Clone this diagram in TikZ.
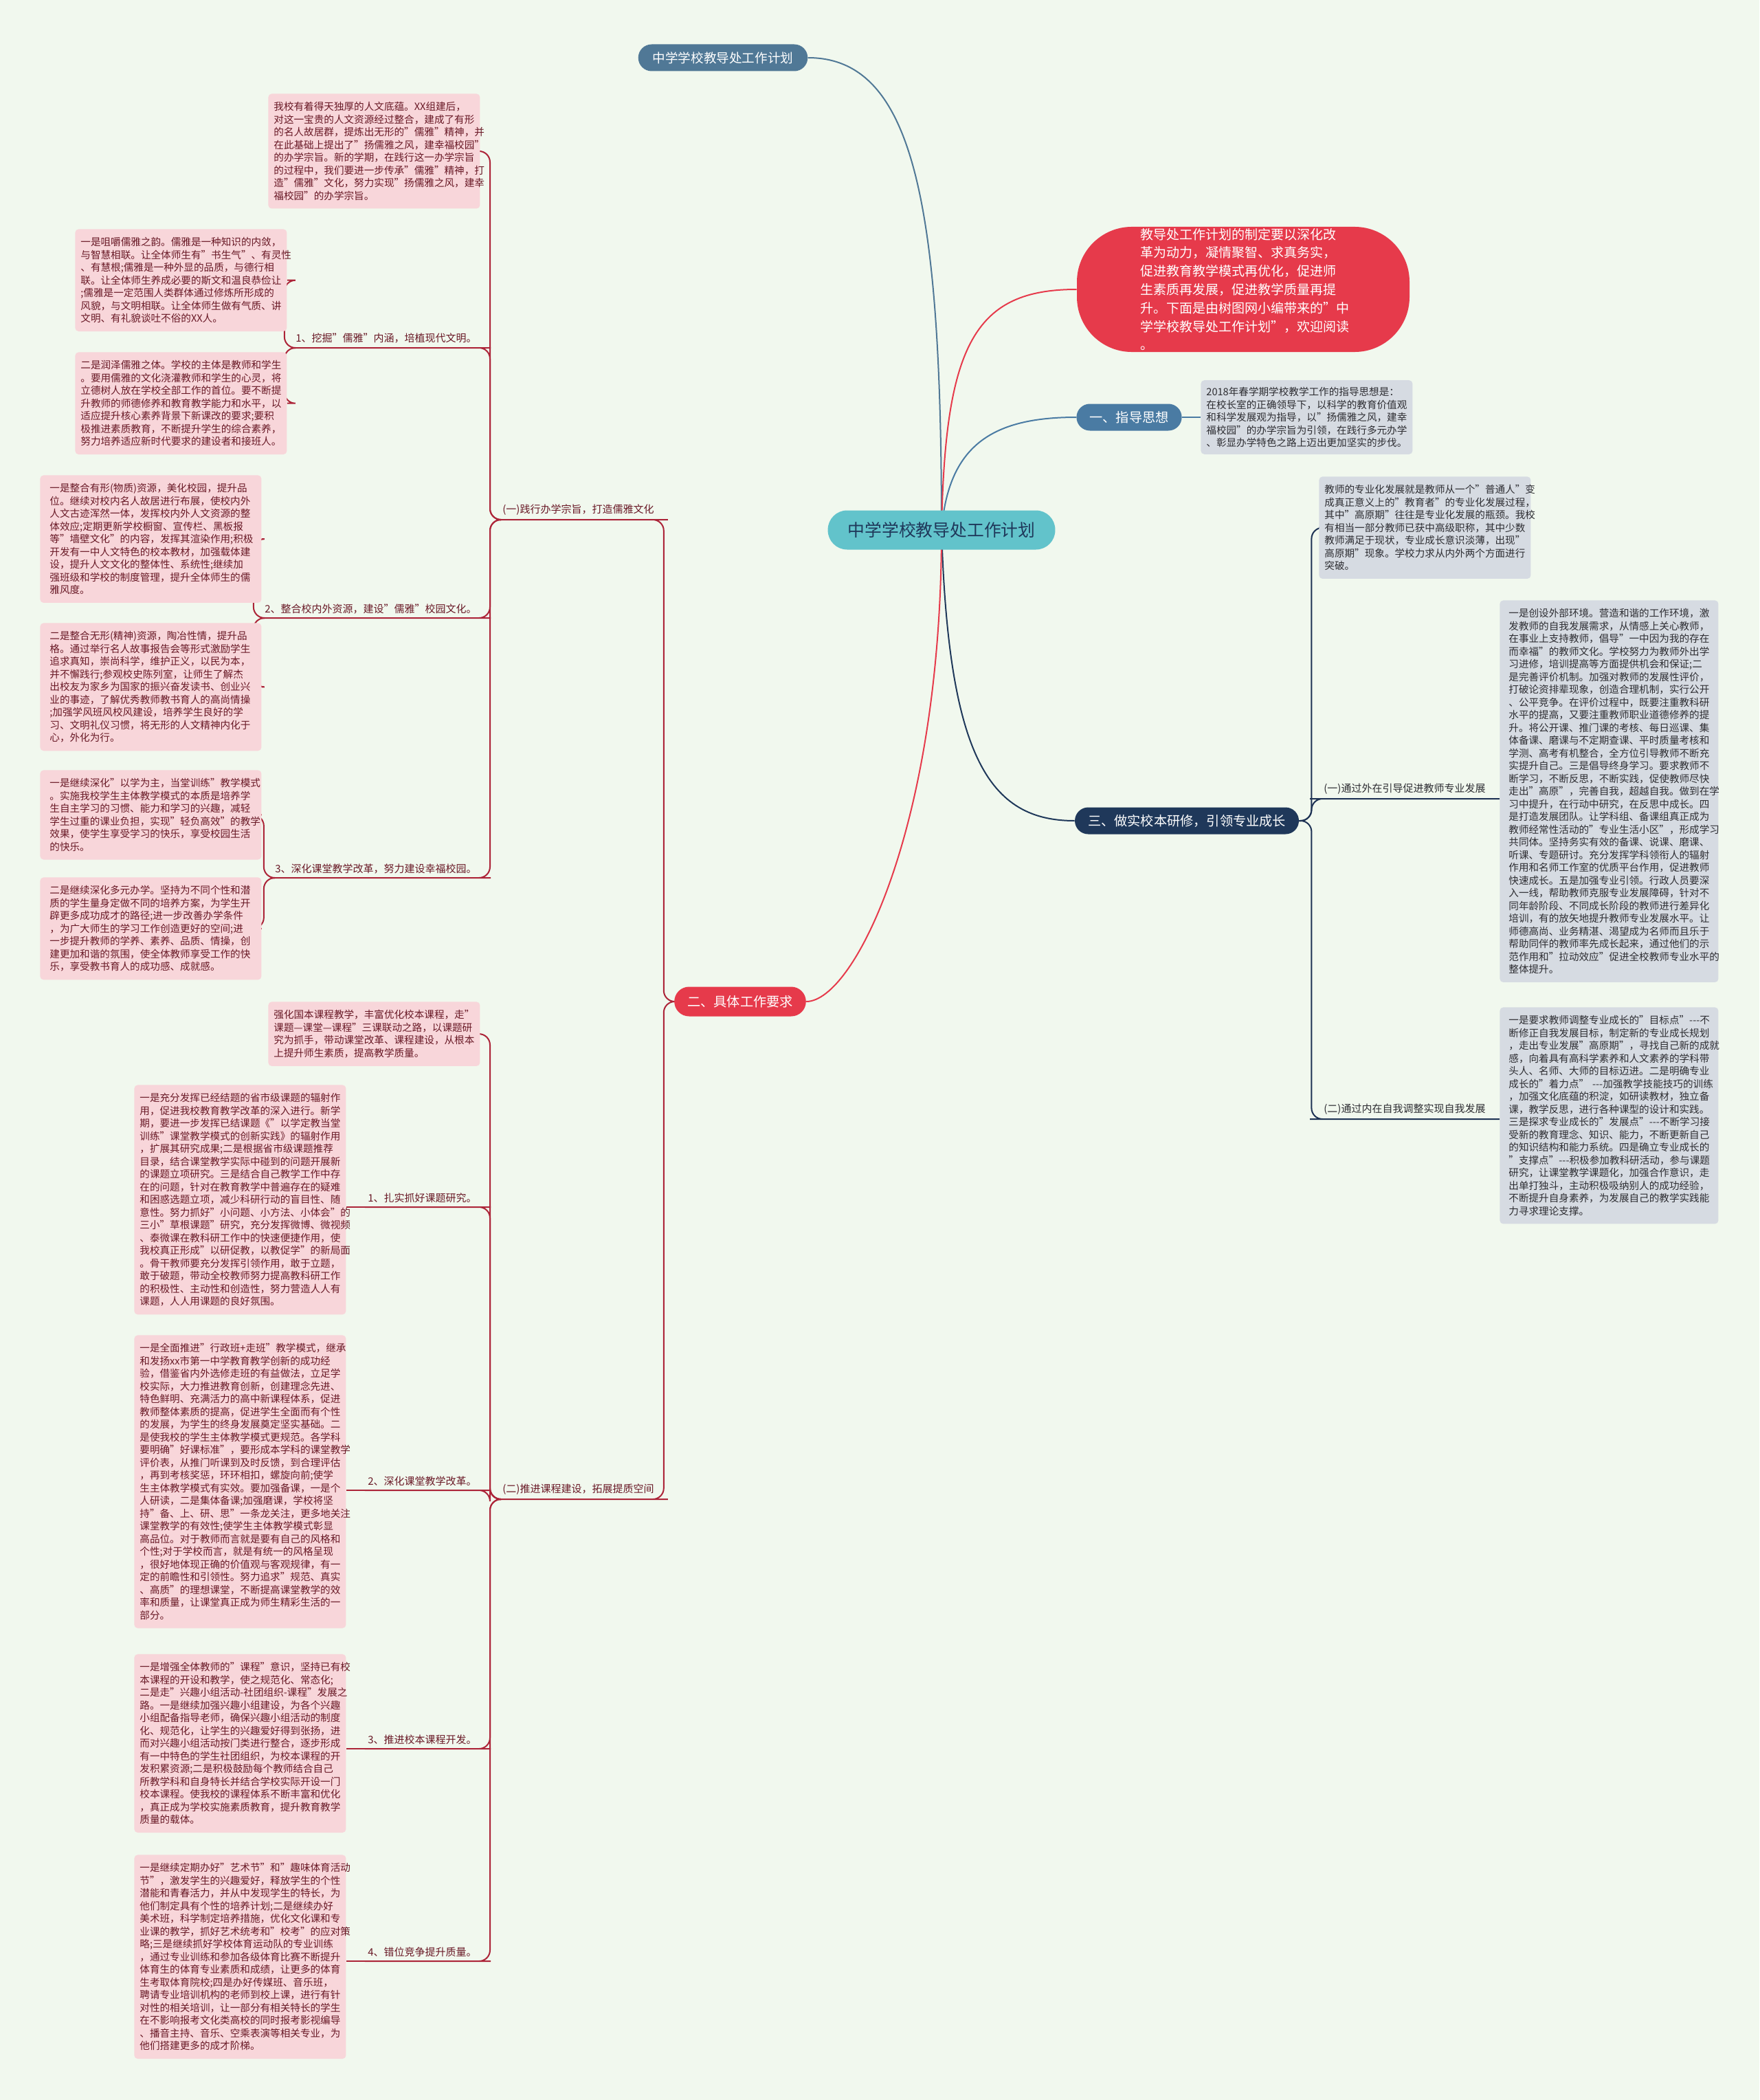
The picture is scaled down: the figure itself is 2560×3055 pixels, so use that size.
\documentclass[tikz,border=0pt]{standalone}
\usepackage{fontspec}
\setmainfont{Noto Sans CJK SC}
\usetikzlibrary{positioning,backgrounds}
\definecolor{bgc}{RGB}{241,248,238}
\definecolor{pkfill}{RGB}{248,214,218}
\definecolor{pktext}{RGB}{105,25,38}
\definecolor{pkline}{RGB}{172,36,56}
\definecolor{gyfill}{RGB}{214,219,226}
\definecolor{gytext}{RGB}{45,45,50}
\definecolor{nvline}{RGB}{30,50,84}
\definecolor{ttlblue}{RGB}{80,120,150}
\definecolor{gdblue}{RGB}{74,123,163}
\definecolor{navy}{RGB}{31,56,90}
\definecolor{redm}{RGB}{230,58,75}
\definecolor{teal}{RGB}{98,195,203}
\newcommand{\bt}{\fontsize{7.3}{9.25}\selectfont\exhyphenpenalty=10000\hyphenpenalty=10000}
\tikzset{
  pnote/.style ={font=\bt,align=left,anchor=north west,rounded corners=2.5pt,
                 inner xsep=4pt,inner ysep=6pt,text width=146pt,
                 fill=pkfill,text=pktext},
  pnotew/.style={pnote,inner xsep=7pt,text width=147pt},
  gnote/.style ={font=\bt,align=left,anchor=north west,rounded corners=2.5pt,
                 inner xsep=4pt,inner ysep=6pt,text width=146pt,
                 fill=gyfill,text=gytext},
  plab/.style  ={font=\fontsize{7.5}{9}\selectfont,inner xsep=2pt,inner ysep=3pt,text=pktext},
  glab/.style  ={font=\fontsize{7.5}{9}\selectfont,inner xsep=2pt,inner ysep=3pt,text=gytext},
  topic/.style ={font=\fontsize{9.6}{11}\selectfont,text=white,minimum height=19.5pt,
                 rounded corners=9.75pt,inner xsep=9.5pt},
  lb/.style    ={draw=pkline,line width=1pt,rounded corners=8pt},
  ln/.style    ={draw=nvline,line width=1pt,rounded corners=8pt},
}

\begin{document}
\begin{tikzpicture}[x=0.5pt,y=-0.5pt]
\useasboundingbox (0,0) rectangle (2560,3055);
% centre and main topics
\node[font=\fontsize{12.4}{14}\selectfont,fill=teal,text=navy,minimum height=28.5pt,
      rounded corners=14pt,inner xsep=14.5pt] (ctr) at (1370,771) {中学学校教导处工作计划};
\node[topic,fill=ttlblue,font=\fontsize{9.3}{11}\selectfont,inner xsep=10.5pt] (ttl) at (1052,84) {中学学校教导处工作计划};
\node[fill=redm,text=white,font=\fontsize{9.5}{13.4}\selectfont,align=left,text width=150pt,
      inner xsep=46pt,inner ysep=1pt,minimum height=90pt,rounded corners=40pt] (intro) at (1809,421)
  {教导处工作计划的制定要以深化改\\革为动力，凝情聚智、求真务实，\\促进教育教学模式再优化，促进师\\生素质再发展，促进教学质量再提\\升。下面是由树图网小编带来的"中\\学学校教导处工作计划"，欢迎阅读\\。};
\node[topic,fill=gdblue] (gd) at (1643,607) {一、指导思想};
\node[gnote,anchor=west,inner ysep=5pt] (gdt) at (1747,607)
  {2018年春学期学校教学工作的指导思想是：\\在校长室的正确领导下，以科学的教育价值观\\和科学发展观为指导，以"扬儒雅之风，建幸\\福校园"的办学宗旨为引领，在践行多元办学\\、彰显办学特色之路上迈出更加坚实的步伐。};
\node[topic,fill=navy] (yx) at (1727,1194) {三、做实校本研修，引领专业成长};
\node[topic,fill=redm,minimum height=21.5pt,rounded corners=10.75pt] (req) at (1077,1457) {二、具体工作要求};

% right side
\node[gnote] (tr) at (1919,693)
  {教师的专业化发展就是教师从一个"普通人"变\\成真正意义上的"教育者"的专业化发展过程，\\其中"高原期"往往是专业化发展的瓶颈。我校\\有相当一部分教师已获中高级职称，其中少数\\教师满足于现状，专业成长意识淡薄，出现"\\高原期"现象。学校力求从内外两个方面进行\\突破。};
\node[glab,anchor=south west] (r1) at (1922,1162) {(一)通过外在引导促进教师专业发展};
\node[glab,anchor=south west] (r2) at (1922,1628) {(二)通过内在自我调整实现自我发展};
\node[gnote,inner xsep=6.5pt] (rb1) at (2182,873)
  {一是创设外部环境。营造和谐的工作环境，激\\发教师的自我发展需求，从情感上关心教师，\\在事业上支持教师，倡导"一中因为我的存在\\而幸福"的教师文化。学校努力为教师外出学\\习进修，培训提高等方面提供机会和保证;二\\是完善评价机制。加强对教师的发展性评价，\\打破论资排辈现象，创造合理机制，实行公开\\、公平竞争。在评价过程中，既要注重教科研\\水平的提高，又要注重教师职业道德修养的提\\升。将公开课、推门课的考核、每日巡课、集\\体备课、磨课与不定期查课、平时质量考核和\\学测、高考有机整合，全方位引导教师不断充\\实提升自己。三是倡导终身学习。要求教师不\\断学习，不断反思，不断实践，促使教师尽快\\走出"高原"，完善自我，超越自我。做到在学\\习中提升，在行动中研究，在反思中成长。四\\是打造发展团队。让学科组、备课组真正成为\\教师经常性活动的"专业生活小区"，形成学习\\共同体。坚持务实有效的备课、说课、磨课、\\听课、专题研讨。充分发挥学科领衔人的辐射\\作用和名师工作室的优质平台作用，促进教师\\快速成长。五是加强专业引领。行政人员要深\\入一线，帮助教师克服专业发展障碍，针对不\\同年龄阶段、不同成长阶段的教师进行差异化\\培训，有的放矢地提升教师专业发展水平。让\\师德高尚、业务精湛、渴望成为名师而且乐于\\帮助同伴的教师率先成长起来，通过他们的示\\范作用和"拉动效应"促进全校教师专业水平的\\整体提升。};
\node[gnote,inner xsep=6.5pt] (rb2) at (2182,1465)
  {一是要求教师调整专业成长的"目标点"-{}-{}-不\\断修正自我发展目标，制定新的专业成长规划\\，走出专业发展"高原期"，寻找自己新的成就\\感，向着具有高科学素养和人文素养的学科带\\头人、名师、大师的目标迈进。二是明确专业\\成长的"着力点"~-{}-{}-加强教学技能技巧的训练\\，加强文化底蕴的积淀，如研读教材，独立备\\课，教学反思，进行各种课型的设计和实践。\\三是探求专业成长的"发展点"-{}-{}-不断学习接\\受新的教育理念、知识、能力，不断更新自己\\的知识结构和能力系统。四是确立专业成长的\\"支撑点"-{}-{}-积极参加教科研活动，参与课题\\研究，让课堂教学课题化，加强合作意识，走\\出单打独斗，主动积极吸纳别人的成功经验，\\不断提升自身素养，为发展自己的教学实践能\\力寻求理论支撑。};

% left side, part one
\node[plab,anchor=south west] (s1) at (727,756) {(一)践行办学宗旨，打造儒雅文化};
\node[pnote] (n0) at (390,136)
  {我校有着得天独厚的人文底蕴。XX组建后，\\对这一宝贵的人文资源经过整合，建成了有形\\的名人故居群，提炼出无形的"儒雅"精神，并\\在此基础上提出了"扬儒雅之风，建幸福校园"\\的办学宗旨。新的学期，在践行这一办学宗旨\\的过程中，我们要进一步传承"儒雅"精神，打\\造"儒雅"文化，努力实现"扬儒雅之风，建幸\\福校园"的办学宗旨。};
\node[plab,anchor=south east] (L1) at (698,506) {1、挖掘"儒雅"内涵，培植现代文明。};
\node[plab,anchor=south east] (L2) at (698,899) {2、整合校内外资源，建设"儒雅"校园文化。};
\node[plab,anchor=south east] (L3) at (698,1277) {3、深化课堂教学改革，努力建设幸福校园。};
\node[pnote] (na) at (109,333)
  {一是咀嚼儒雅之韵。儒雅是一种知识的内敛，\\与智慧相联。让全体师生有"书生气"、有灵性\\、有慧根;儒雅是一种外显的品质，与德行相\\联。让全体师生养成必要的斯文和温良恭俭让\\;儒雅是一定范围人类群体通过修炼所形成的\\风貌，与文明相联。让全体师生做有气质、讲\\文明、有礼貌谈吐不俗的XX人。};
\node[pnote] (nb) at (109,512)
  {二是润泽儒雅之体。学校的主体是教师和学生\\。要用儒雅的文化浇灌教师和学生的心灵，将\\立德树人放在学校全部工作的首位。要不断提\\升教师的师德修养和教育教学能力和水平，以\\适应提升核心素养背景下新课改的要求;要积\\极推进素质教育，不断提升学生的综合素养，\\努力培养适应新时代要求的建设者和接班人。};
\node[pnotew] (nc) at (58,691)
  {一是整合有形(物质)资源，美化校园，提升品\\位。继续对校内名人故居进行布展，使校内外\\人文古迹浑然一体，发挥校内外人文资源的整\\体效应;定期更新学校橱窗、宣传栏、黑板报\\等"墙壁文化"的内容，发挥其渲染作用;积极\\开发有一中人文特色的校本教材，加强载体建\\设，提升人文文化的整体性、系统性;继续加\\强班级和学校的制度管理，提升全体师生的儒\\雅风度。};
\node[pnotew] (nd) at (58,906)
  {二是整合无形(精神)资源，陶冶性情，提升品\\格。通过举行名人故事报告会等形式激励学生\\追求真知，崇尚科学，维护正义，以民为本，\\并不懈践行;参观校史陈列室，让师生了解杰\\出校友为家乡为国家的振兴奋发读书、创业兴\\业的事迹，了解优秀教师教书育人的高尚情操\\;加强学风班风校风建设，培养学生良好的学\\习、文明礼仪习惯，将无形的人文精神内化于\\心，外化为行。};
\node[pnotew] (ne) at (58,1120)
  {一是继续深化"以学为主，当堂训练"教学模式\\。实施我校学生主体教学模式的本质是培养学\\生自主学习的习惯、能力和学习的兴趣，减轻\\学生过重的课业负担，实现"轻负高效"的教学\\效果，使学生享受学习的快乐，享受校园生活\\的快乐。};
\node[pnotew] (nf) at (58,1276)
  {二是继续深化多元办学。坚持为不同个性和潜\\质的学生量身定做不同的培养方案，为学生开\\辟更多成功成才的路径;进一步改善办学条件\\，为广大师生的学习工作创造更好的空间;进\\一步提升教师的学养、素养、品质、情操，创\\建更加和谐的氛围，使全体教师享受工作的快\\乐，享受教书育人的成功感、成就感。};

% left side, part two
\node[plab,anchor=south west] (s2) at (727,2181) {(二)推进课程建设，拓展提质空间};
\node[pnote] (ng) at (390,1457)
  {强化国本课程教学，丰富优化校本课程，走"\\课题—课堂—课程"三课联动之路，以课题研\\究为抓手，带动课堂改革、课程建设，从根本\\上提升师生素质，提高教学质量。};
\node[plab,anchor=south east] (K1) at (698,1756) {1、扎实抓好课题研究。};
\node[plab,anchor=south east] (K2) at (698,2168) {2、深化课堂教学改革。};
\node[plab,anchor=south east] (K3) at (698,2544) {3、推进校本课程开发。};
\node[plab,anchor=south east] (K4) at (698,2853) {4、错位竞争提升质量。};
\node[pnote] (nh) at (195,1578)
  {一是充分发挥已经结题的省市级课题的辐射作\\用，促进我校教育教学改革的深入进行。新学\\期，要进一步发挥已结课题《"以学定教当堂\\训练"课堂教学模式的创新实践》的辐射作用\\，扩展其研究成果;二是根据省市级课题推荐\\目录，结合课堂教学实际中碰到的问题开展新\\的课题立项研究。三是结合自己教学工作中存\\在的问题，针对在教育教学中普遍存在的疑难\\和困惑选题立项，减少科研行动的盲目性、随\\意性。努力抓好"小问题、小方法、小体会"的\\三小"草根课题"研究，充分发挥微博、微视频\\、泰微课在教科研工作中的快速便捷作用，使\\我校真正形成"以研促教，以教促学"的新局面\\。骨干教师要充分发挥引领作用，敢于立题，\\敢于破题，带动全校教师努力提高教科研工作\\的积极性、主动性和创造性，努力营造人人有\\课题，人人用课题的良好氛围。};
\node[pnote] (ni) at (195,1942)
  {一是全面推进"行政班+走班"教学模式，继承\\和发扬xx市第一中学教育教学创新的成功经\\验，借鉴省内外选修走班的有益做法，立足学\\校实际，大力推进教育创新，创建理念先进、\\特色鲜明、充满活力的高中新课程体系，促进\\教师整体素质的提高，促进学生全面而有个性\\的发展，为学生的终身发展奠定坚实基础。二\\是使我校的学生主体教学模式更规范。各学科\\要明确"好课标准"，要形成本学科的课堂教学\\评价表，从推门听课到及时反馈，到合理评估\\，再到考核奖惩，环环相扣，螺旋向前;使学\\生主体教学模式有实效。要加强备课，一是个\\人研读，二是集体备课;加强磨课，学校将坚\\持"备、上、研、思"一条龙关注，更多地关注\\课堂教学的有效性;使学生主体教学模式彰显\\高品位。对于教师而言就是要有自己的风格和\\个性;对于学校而言，就是有统一的风格呈现\\，很好地体现正确的价值观与客观规律，有一\\定的前瞻性和引领性。努力追求"规范、真实\\、高质"的理想课堂，不断提高课堂教学的效\\率和质量，让课堂真正成为师生精彩生活的一\\部分。};
\node[pnote] (nj) at (195,2406)
  {一是增强全体教师的"课程"意识，坚持已有校\\本课程的开设和教学，使之规范化、常态化;\\二是走"兴趣小组活动-社团组织-课程"发展之\\路。一是继续加强兴趣小组建设，为各个兴趣\\小组配备指导老师，确保兴趣小组活动的制度\\化、规范化，让学生的兴趣爱好得到张扬，进\\而对兴趣小组活动按门类进行整合，逐步形成\\有一中特色的学生社团组织，为校本课程的开\\发积累资源;二是积极鼓励每个教师结合自己\\所教学科和自身特长并结合学校实际开设一门\\校本课程。使我校的课程体系不断丰富和优化\\，真正成为学校实施素质教育，提升教育教学\\质量的载体。};
\node[pnote] (nk) at (195,2698)
  {一是继续定期办好"艺术节"和"趣味体育活动\\节"，激发学生的兴趣爱好，释放学生的个性\\潜能和青春活力，并从中发现学生的特长，为\\他们制定具有个性的培养计划;二是继续办好\\美术班，科学制定培养措施，优化文化课和专\\业课的教学，抓好艺术统考和"校考"的应对策\\略;三是继续抓好学校体育运动队的专业训练\\，通过专业训练和参加各级体育比赛不断提升\\体育生的体育专业素质和成绩，让更多的体育\\生考取体育院校;四是办好传媒班、音乐班，\\聘请专业培训机构的老师到校上课，进行有针\\对性的相关培训，让一部分有相关特长的学生\\在不影响报考文化类高校的同时报考影视编导\\、播音主持、音乐、空乘表演等相关专业，为\\他们搭建更多的成才阶梯。};

\begin{scope}[on background layer]
\fill[bgc] (0,0) rectangle (2560,3055);
% curves from the centre
\draw[ttlblue,line width=1pt] (ctr.center) .. controls +(0,-471) and +(155,0) .. (ttl.east);
\draw[redm,line width=1pt] (ctr.center) .. controls +(5,-271) and +(-148,0) .. (intro.west);
\draw[gdblue,line width=1pt] (ctr.center) .. controls +(10,-121) and +(-125,0) .. (gd.west);
\draw[navy,line width=1pt] (ctr.center) .. controls +(10,329) and +(-125,0) .. (yx.west);
\draw[redm,line width=1pt] (ctr.center) .. controls +(0,429) and +(70,0) .. (req.east);
\draw[gdblue,line width=1pt] (gd.east) -- (gdt.west);
% right brackets
\draw[ln] (yx.east) -- ++(18,0) |- (tr.west);
\draw[ln] (yx.east) -- ++(18,0) |- (r1.south west) -- (r1.south east) -- (rb1.west |- r1.south east);
\draw[ln] (yx.east) -- ++(18,0) |- (r2.south west) -- (r2.south east) -- (rb2.west |- r2.south east);
% left brackets
\draw[lb] (req.west) -- ++(-15,0) |- (s1.south east) -- (s1.south west);
\draw[lb] (req.west) -- ++(-15,0) |- (s2.south east) -- (s2.south west);
\draw[lb] (s1.south west) -- ++(-14,0) |- (n0.east);
\foreach \c in {L1,L2,L3}
  \draw[lb] (s1.south west) -- ++(-14,0) |- (\c.south east) -- (\c.south west);
\foreach \p/\c in {L1/na,L1/nb,L2/nc,L2/nd,L3/ne,L3/nf}
  \draw[lb] (\p.south west) -- ++(-12,0) |- (\c.east);
\draw[lb] (s2.south west) -- ++(-14,0) |- (ng.east);
\foreach \c in {K1,K2,K3,K4}
  \draw[lb] (s2.south west) -- ++(-14,0) |- (\c.south east) -- (\c.south west);
\foreach \p/\c in {K1/nh,K2/ni,K3/nj,K4/nk}
  \draw[lb] (\p.south west) -- (\c.east |- \p.south west);
\end{scope}
\end{tikzpicture}
\end{document}
